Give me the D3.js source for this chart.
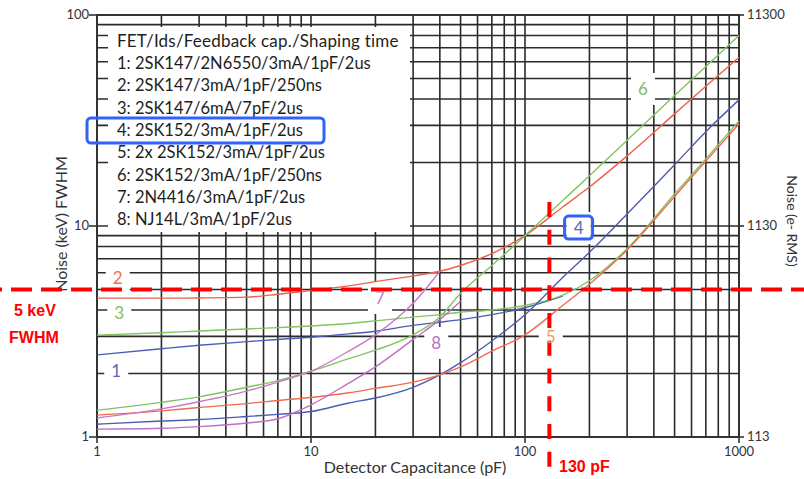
<!DOCTYPE html>
<html>
<head>
<meta charset="utf-8">
<script src="https://cdn.jsdelivr.net/npm/d3@7/dist/d3.min.js"></script>
<style>
  body { margin: 0; background: #fff; }
  svg { display: block; }
</style>
</head>
<body>
<div id="chart"></div>
<script>
// detector capacitance grid (pF) shared by all curves
var caps = [1, 2, 3, 5, 7, 10, 15, 20, 30, 40, 50, 70, 100, 150, 200, 300, 500, 700, 1000];

// noise in keV FWHM (null = curve not drawn there)
var noise1 = [2.45, 2.62, 2.72, 2.83, 2.9, 2.97, 3.08, 3.17, 3.38, 3.5, 3.6, 3.8, 4.1, 4.65, null, null, null, null, null];
var noise2 = [4.55, 4.55, 4.56, 4.6, 4.75, 4.95, 5.2, 5.45, 5.8, 6.1, 6.5, 7.4, 9.0, 12.3, 15.3, 21.5, 34, 46, 63];
var noise3 = [3.04, 3.12, 3.18, 3.25, 3.3, 3.36, 3.45, 3.55, 3.7, 3.8, 3.9, 4.0, 4.2, 4.7, 5.5, 7.8, 14.2, 20.8, 31.5];
var noise4 = [1.15, 1.19, 1.21, 1.25, 1.28, 1.32, 1.45, 1.53, 1.72, 1.97, 2.25, 2.85, 3.8, 5.7, 7.5, 11.4, 19.5, 28, 39.6];
var noise5 = [1.27, 1.33, 1.38, 1.44, 1.49, 1.54, 1.62, 1.7, 1.82, 1.97, 2.15, 2.55, 3.05, 4.2, 5.3, 7.7, 13.8, 20.3, 30.5];
var noise6 = [1.34, 1.46, 1.55, 1.72, 1.85, 2.05, 2.35, 2.58, 3.05, 3.7, 4.8, 6.5, 9.0, 13.2, 17.3, 25.5, 41.5, 57, 80];
var noise7 = [1.23, 1.36, 1.47, 1.65, 1.82, 2.05, 2.55, 3.05, 4.3, 6.1, null, null, null, null, null, null, null, null, null];
var noise8 = [1.09, 1.1, 1.12, 1.165, 1.22, 1.42, 1.8, 2.15, 2.9, 3.6, 4.4, null, null, null, null, null, null, null, null];

var legendTitle = "FET/Ids/Feedback cap./Shaping time";
var legendItems = [
  "1: 2SK147/2N6550/3mA/1pF/2us",
  "2: 2SK147/3mA/1pF/250ns",
  "3: 2SK147/6mA/7pF/2us",
  "4: 2SK152/3mA/1pF/2us",
  "5: 2x 2SK152/3mA/1pF/2us",
  "6: 2SK152/3mA/1pF/250ns",
  "7: 2N4416/3mA/1pF/2us",
  "8: NJ14L/3mA/1pF/2us"
];

// curve number tags placed in data coordinates (pF, keV)
var tagNames = ["1", "2", "3", "4", "5", "6", "7", "8"];
var tagCap   = [1.23, 1.25, 1.27, 178, 132, 356, 21, 38.5];
var tagNoise = [2.06, 5.67, 3.87, 9.78, 2.98, 44.6, 4.56, 2.79];

var xTicks = [1, 10, 100, 1000];
var yTicks = [1, 10, 100];
var rightTickLabels = ["113", "1130", "11300"];

var markerKeV = 5;
var markerPF = 130;

var W = 804, H = 479;
var svg = d3.select('#chart').append('svg')
  .attr('width', W)
  .attr('height', H)
  .style('font-family', 'Lato, "Open Sans", sans-serif');

var x = d3.scaleLog().domain([1, 1000]).range([97, 739]);
var y = d3.scaleLog().domain([1, 100]).range([437, 15]);

var gridColor = '#2b2b2b';

// minor + major log grid
var xGrid = [], yGrid = [];
[1, 10, 100].forEach(function (d) {
  for (var k = 1; k <= 9; k++) { xGrid.push(d * k); }
});
xGrid.push(1000);
[1, 10].forEach(function (d) {
  for (var k = 1; k <= 9; k++) { yGrid.push(d * k); }
});
yGrid.push(100);

svg.append('g').selectAll('line').data(xGrid).enter().append('line')
  .attr('x1', function (d) { return x(d); })
  .attr('x2', function (d) { return x(d); })
  .attr('y1', y(100)).attr('y2', y(1))
  .attr('stroke', gridColor).attr('stroke-width', 1.6);

svg.append('g').selectAll('line').data(yGrid).enter().append('line')
  .attr('y1', function (d) { return y(d); })
  .attr('y2', function (d) { return y(d); })
  .attr('x1', x(1)).attr('x2', x(1000))
  .attr('stroke', gridColor).attr('stroke-width', 1.6);

// frame
svg.append('rect')
  .attr('x', x(1)).attr('y', y(100))
  .attr('width', x(1000) - x(1)).attr('height', y(1) - y(100))
  .attr('fill', 'none').attr('stroke', '#333').attr('stroke-width', 2);

// legend panel hides the grid behind it
svg.append('rect')
  .attr('x', 108).attr('y', 27).attr('width', 302).attr('height', 205)
  .attr('fill', '#fff');

// white patches behind the curve tags
svg.append('g').selectAll('rect').data(tagNames).enter().append('rect')
  .attr('x', function (d, i) { return x(tagCap[i]) - 12; })
  .attr('y', function (d, i) { return y(tagNoise[i]) - 16; })
  .attr('width', 24).attr('height', 32)
  .attr('fill', '#fff');

// axis ticks and labels
var axisText = '#333';
svg.append('g').selectAll('line').data(yTicks).enter().append('line')
  .attr('x1', x(1) - 8).attr('x2', x(1))
  .attr('y1', function (d) { return y(d); }).attr('y2', function (d) { return y(d); })
  .attr('stroke', '#333').attr('stroke-width', 1.6);
svg.append('g').selectAll('line').data(yTicks).enter().append('line')
  .attr('x1', x(1000)).attr('x2', x(1000) + 5)
  .attr('y1', function (d) { return y(d); }).attr('y2', function (d) { return y(d); })
  .attr('stroke', '#333').attr('stroke-width', 1.6);
svg.append('g').selectAll('line').data(xTicks).enter().append('line')
  .attr('x1', function (d) { return x(d); }).attr('x2', function (d) { return x(d); })
  .attr('y1', y(1)).attr('y2', y(1) + 6)
  .attr('stroke', '#333').attr('stroke-width', 1.6);

svg.append('g').selectAll('text').data(yTicks).enter().append('text')
  .attr('x', x(1) - 8)
  .attr('y', function (d) { return y(d) + 4; })
  .attr('text-anchor', 'end')
  .attr('font-size', 13).attr('fill', axisText)
  .text(function (d) { return d; });

svg.append('g').selectAll('text').data(yTicks).enter().append('text')
  .attr('x', x(1000) + 8)
  .attr('y', function (d) { return y(d) + 4; })
  .attr('font-size', 13).attr('fill', axisText)
  .text(function (d, i) { return rightTickLabels[i]; });

svg.append('g').selectAll('text').data(xTicks).enter().append('text')
  .attr('x', function (d) { return x(d); })
  .attr('y', 456)
  .attr('text-anchor', 'middle')
  .attr('font-size', 13).attr('fill', axisText)
  .text(function (d) { return d; });

svg.append('text')
  .attr('x', 415).attr('y', 473)
  .attr('text-anchor', 'middle')
  .attr('font-size', 16).attr('fill', axisText)
  .text('Detector Capacitance (pF)');

svg.append('text')
  .attr('transform', 'translate(67,224) rotate(-90)')
  .attr('text-anchor', 'middle')
  .attr('font-size', 16).attr('fill', axisText)
  .text('Noise (keV) FWHM');

svg.append('text')
  .attr('transform', 'translate(787,221) rotate(90)')
  .attr('text-anchor', 'middle')
  .attr('font-size', 14).attr('fill', axisText)
  .text('Noise (e- RMS)');

// curves
var series = [
  { v: noise1, c: '#4d5cb4' },
  { v: noise2, c: '#f0604a' },
  { v: noise3, c: '#80c463' },
  { v: noise4, c: '#4d5cb4' },
  { v: noise5, c: '#f06a4e' },
  { v: noise6, c: '#80c463' },
  { v: noise7, c: '#c87ac8' },
  { v: noise8, c: '#bf6fc4' }
];

var line = d3.line()
  .defined(function (d) { return d[1] != null; })
  .x(function (d) { return x(d[0]); })
  .y(function (d) { return y(d[1]); })
  .curve(d3.curveMonotoneX);

svg.append('g').selectAll('path').data(series).enter().append('path')
  .attr('d', function (s) { return line(caps.map(function (c, i) { return [c, s.v[i]]; })); })
  .attr('fill', 'none')
  .attr('stroke', function (s) { return s.c; })
  .attr('stroke-width', 1.4);

// legend text
svg.append('text')
  .attr('x', 117).attr('y', 47)
  .attr('font-size', 17).attr('letter-spacing', 0.2).attr('fill', '#1e1e1e')
  .text(legendTitle);
svg.append('g').selectAll('text').data(legendItems).enter().append('text')
  .attr('x', 117)
  .attr('y', function (d, i) { return 69 + i * 22.3; })
  .attr('font-size', 16.5).attr('fill', '#1e1e1e')
  .text(function (d) { return d; });

// red marker lines: 5 keV FWHM and 130 pF
svg.append('line')
  .attr('x1', 0).attr('x2', W)
  .attr('y1', y(markerKeV)).attr('y2', y(markerKeV))
  .attr('stroke', '#ff0000').attr('stroke-width', 4)
  .attr('stroke-dasharray', '21 9').attr('stroke-dashoffset', -11);

svg.append('line')
  .attr('x1', x(markerPF)).attr('x2', x(markerPF))
  .attr('y1', 202).attr('y2', 471)
  .attr('stroke', '#ff0000').attr('stroke-width', 4)
  .attr('stroke-dasharray', '15 12.75');

// curve tags (drawn last so the 5 shows in the dash gap)
var tagColors = ['#5a68b8', '#f07050', '#80c060', '#5a68b8', '#f0a060', '#80c060', '#c080c8', '#c070c0'];
svg.append('g').selectAll('text').data(tagNames).enter().append('text')
  .attr('x', function (d, i) { return x(tagCap[i]); })
  .attr('y', function (d, i) { return y(tagNoise[i]) + 6; })
  .attr('text-anchor', 'middle')
  .attr('font-size', 17)
  .attr('fill', function (d, i) { return tagColors[i]; })
  .text(function (d) { return d; });

svg.append('text').attr('x', 14).attr('y', 316)
  .attr('font-family', '"Liberation Sans", Arial, sans-serif')
  .attr('font-weight', 'bold').attr('font-size', 16).attr('fill', '#ff0000')
  .text('5 keV');
svg.append('text').attr('x', 9).attr('y', 343)
  .attr('font-family', '"Liberation Sans", Arial, sans-serif')
  .attr('font-weight', 'bold').attr('font-size', 16).attr('fill', '#ff0000')
  .text('FWHM');
svg.append('text').attr('x', 559).attr('y', 472)
  .attr('font-family', '"Liberation Sans", Arial, sans-serif')
  .attr('font-weight', 'bold').attr('font-size', 16).attr('fill', '#ff0000')
  .text('130 pF');

// blue highlight boxes for curve 4
svg.append('rect')
  .attr('x', 87).attr('y', 118).attr('width', 237).attr('height', 25)
  .attr('rx', 4).attr('fill', 'none')
  .attr('stroke', '#2f62ff').attr('stroke-width', 3);
svg.append('rect')
  .attr('x', x(tagCap[3]) - 14).attr('y', y(tagNoise[3]) - 12)
  .attr('width', 28).attr('height', 23)
  .attr('rx', 4).attr('fill', 'none')
  .attr('stroke', '#2f62ff').attr('stroke-width', 3);
</script>
</body>
</html>
